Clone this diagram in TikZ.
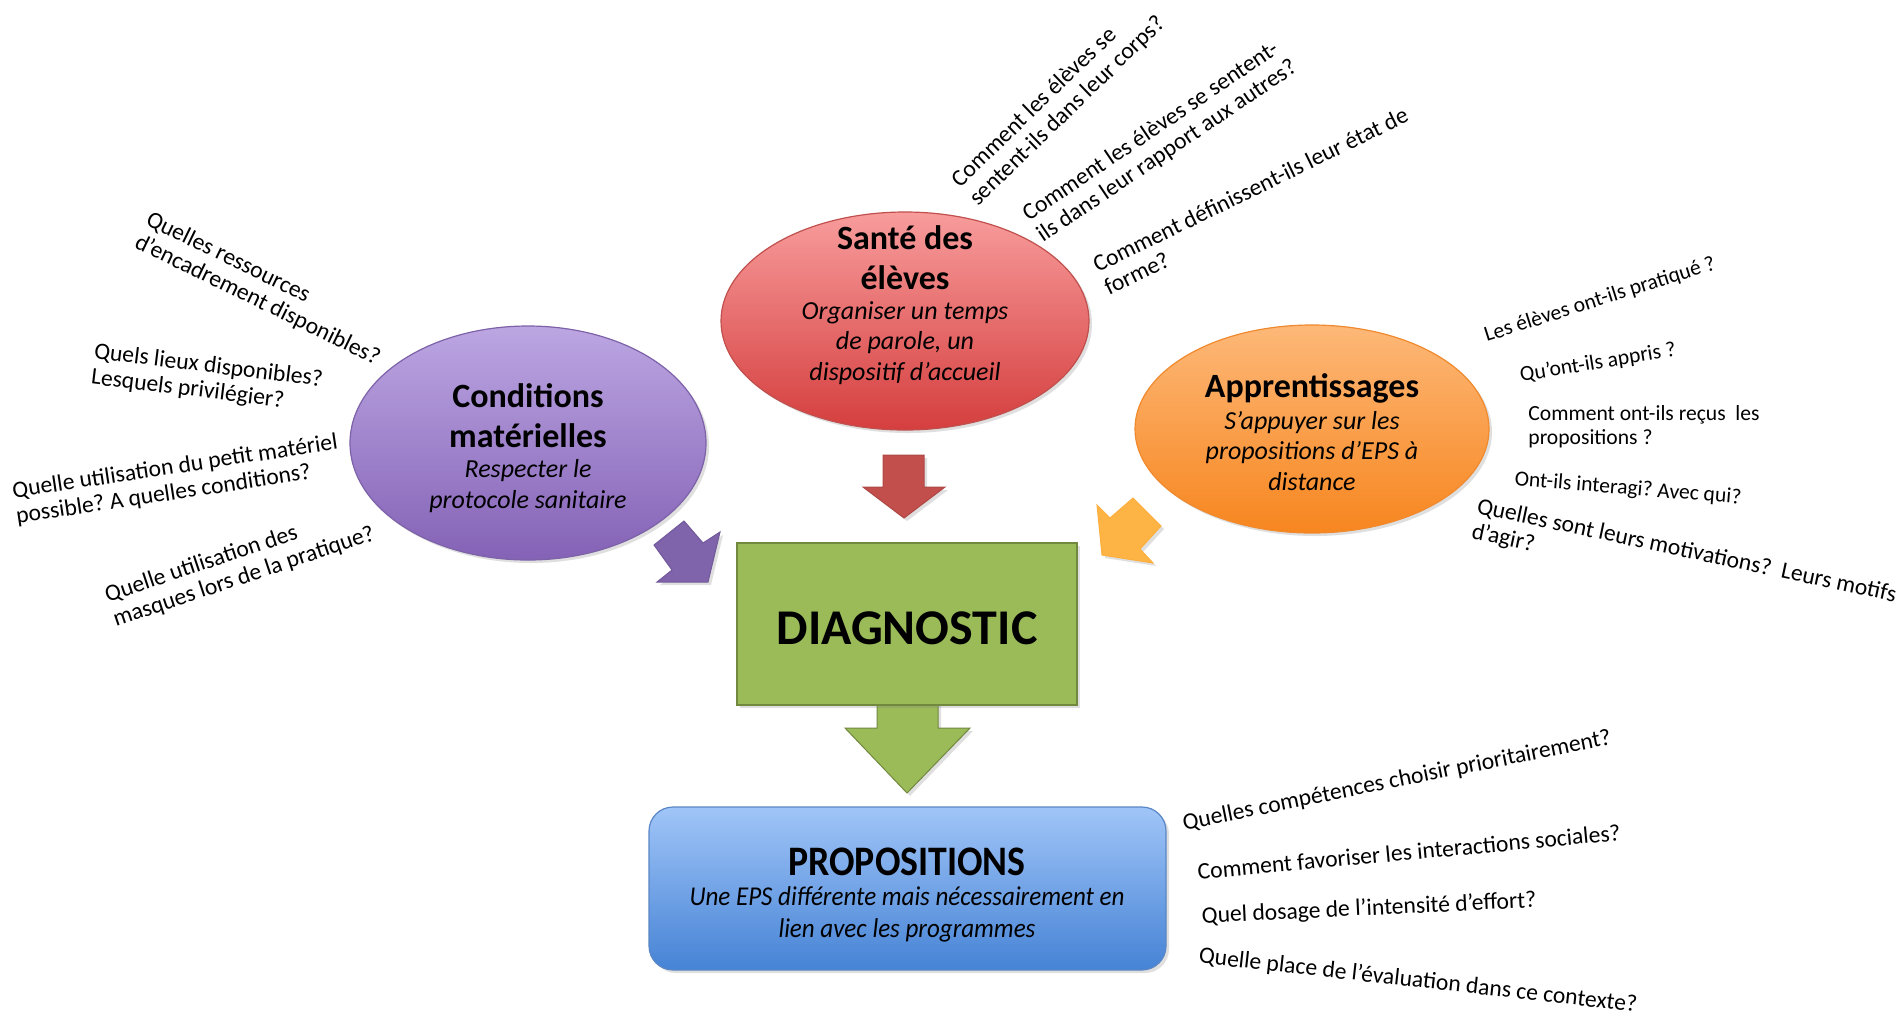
\documentclass[tikz,border=0pt]{standalone}
\usepackage{fontspec}
\setmainfont{Carlito}
\frenchspacing
\usetikzlibrary{shapes.geometric,shadows}
\definecolor{purTop}{HTML}{BCA6E2}
\definecolor{purBot}{HTML}{8462B6}
\definecolor{purLine}{HTML}{7D62A8}
\definecolor{redTop}{HTML}{F89C9C}
\definecolor{redBot}{HTML}{D53E3E}
\definecolor{redLine}{HTML}{C0504D}
\definecolor{orTop}{HTML}{FDB878}
\definecolor{orBot}{HTML}{F7861F}
\definecolor{orLine}{HTML}{F08A2E}
\definecolor{grFill}{HTML}{9BBB59}
\definecolor{grLine}{HTML}{71893F}
\definecolor{blTop}{HTML}{A0C5F8}
\definecolor{blBot}{HTML}{4683D5}
\definecolor{blLine}{HTML}{5A87C6}
\definecolor{purArrow}{HTML}{7F63AB}
\definecolor{redArrow}{HTML}{C24F4C}
\definecolor{orArrow}{HTML}{FDB445}
\begin{document}
\begin{tikzpicture}[x=0.5pt,y=-0.5pt,
  q/.style={font=\fontsize{11.8}{12.8}\selectfont, align=left, inner sep=0pt},
  qs/.style={font=\fontsize{10.8}{12.2}\selectfont, align=left, inner sep=0pt},
  ttl/.style={font=\fontsize{17}{20}\selectfont\bfseries, align=center, inner sep=0pt},
  sub/.style={font=\fontsize{13}{15.2}\selectfont\itshape, align=center, inner sep=0pt},
  shad/.style={drop shadow={shadow xshift=1.5pt,shadow yshift=-1.5pt,opacity=0.25}},
  bubble/.style={ellipse, inner sep=0pt, line width=0.6pt, shad},
  blockarrow/.style={line width=0.5pt, line join=miter, shad}
]
\useasboundingbox[fill=white] (0,0) rectangle (1898,1013);

% ---- ellipses
\node[bubble, top color=purTop, bottom color=purBot, draw=purLine,
      minimum width=178pt, minimum height=117pt] (cond) at (528,443) {};
\node[bubble, top color=redTop, bottom color=redBot, draw=redLine,
      minimum width=184pt, minimum height=109pt] (sante) at (905,321) {};
\node[bubble, top color=orTop, bottom color=orBot, draw=orLine,
      minimum width=177pt, minimum height=104pt] (appr) at (1312,429) {};

% ---- block arrows
\draw[blockarrow, fill=redArrow, draw=redArrow!90!black]
  (883,455) -- (924,455) -- (924,487) -- (945,487) -- (904,518) -- (863,487) -- (883,487) -- cycle;
\draw[blockarrow, fill=purArrow, draw=purArrow!90!black]
  (654,545) -- (684,521) -- (703,543) -- (720,532) -- (708,582) -- (657,582) -- (672,570) -- cycle;
\draw[blockarrow, fill=orArrow, draw=orArrow!90!orange]
  (1133,498) -- (1161,526) -- (1140,549) -- (1153,563) -- (1102,555) -- (1097,505) -- (1110,518) -- cycle;
\draw[blockarrow, fill=grFill, draw=grLine]
  (877,700) -- (877,728) -- (845,728) -- (907,793) -- (970,728) -- (938,728) -- (938,700) -- cycle;

% ---- boxes
\node[rectangle, fill=grFill, draw=grLine, line width=1pt, shad,
      minimum width=170pt, minimum height=81pt, inner sep=0pt] (diag) at (907,624) {};
\node[rectangle, rounded corners=12pt, top color=blTop, bottom color=blBot, draw=blLine,
      line width=0.6pt, shad, minimum width=258.5pt, minimum height=81.5pt, inner sep=0pt]
      (prop) at (907.5,888.5) {};

% ---- texts in shapes
\node[ttl] (condT) at (528,416) {Conditions\\matérielles};
\node[sub] (condS) at (528,486) {Respecter le\\protocole sanitaire};
\node[ttl] (santeT) at (905,258) {Santé des\\élèves};
\node[sub] (santeS) at (905,343) {Organiser un temps\\de parole, un\\dispositif d’accueil};
\node[ttl] (apprT) at (1312,388) {Apprentissages};
\node[sub] (apprS) at (1312,451) {S’appuyer sur les\\propositions d’EPS à\\distance};
\node[font=\fontsize{25}{28}\selectfont\bfseries, inner sep=0pt] (diagT) at (907,628) {DIAGNOSTIC};
\node[font=\fontsize{21}{24}\selectfont\bfseries, inner sep=0pt, xscale=0.9] (propT) at (907,862) {PROPOSITIONS};
\node[font=\fontsize{13.6}{16}\selectfont\itshape, align=center, inner sep=0pt, xscale=0.92]
  (propS) at (907,914) {Une EPS différente mais nécessairement en\\lien avec les programmes};

% ---- questions: conditions
\node[q, rotate=-26] (c1) at (263,289) {Quelles ressources\\d’encadrement disponibles?};
\node[q, rotate=-7] (c2) at (207,379) {Quels lieux disponibles?\\Lesquels privilégier?};
\node[q, rotate=8.6] (c3) at (177,480) {Quelle utilisation du petit matériel\\possible? A quelles conditions?};
\node[q, rotate=18.5] (c4) at (240,565) {Quelle utilisation des\\masques lors de la pratique?};

% ---- questions: sante
\node[q, rotate=44] (s1) at (1059,102) {Comment les élèves se\\sentent-ils dans leur corps?};
\node[q, rotate=34] (s2) at (1160,141) {Comment les élèves se sentent-\\ils dans leur rapport aux autres?};
\node[q, rotate=26] (s3) at (1256,201) {Comment définissent-ils leur état de\\forme?};

% ---- questions: apprentissages
\node[qs, rotate=17.6] (a1) at (1600,300) {Les élèves ont-ils pratiqué ?};
\node[qs, rotate=9.3] (a2) at (1598,363) {Qu’ont-ils appris ?};
\node[qs, anchor=west] (a3) at (1528,427) {Comment ont-ils reçus~ les\\propositions ?};
\node[qs, rotate=-4.7] (a4) at (1628,489) {Ont-ils interagi? Avec qui?};
\node[q, rotate=-12] (a5) at (1684,564) {Quelles sont leurs motivations?~ Leurs motifs\\d’agir?};

% ---- questions: propositions
\node[q, rotate=11.4] (p1) at (1397,781) {Quelles compétences choisir prioritairement?};
\node[q, rotate=5.3] (p2) at (1409,852) {Comment favoriser les interactions sociales?};
\node[q, rotate=2.7] (p3) at (1369,909) {Quel dosage de l’intensité d’effort?};
\node[q, rotate=-6.4] (p4) at (1418,981) {Quelle place de l’évaluation dans ce contexte?};
\end{tikzpicture}
\end{document}
